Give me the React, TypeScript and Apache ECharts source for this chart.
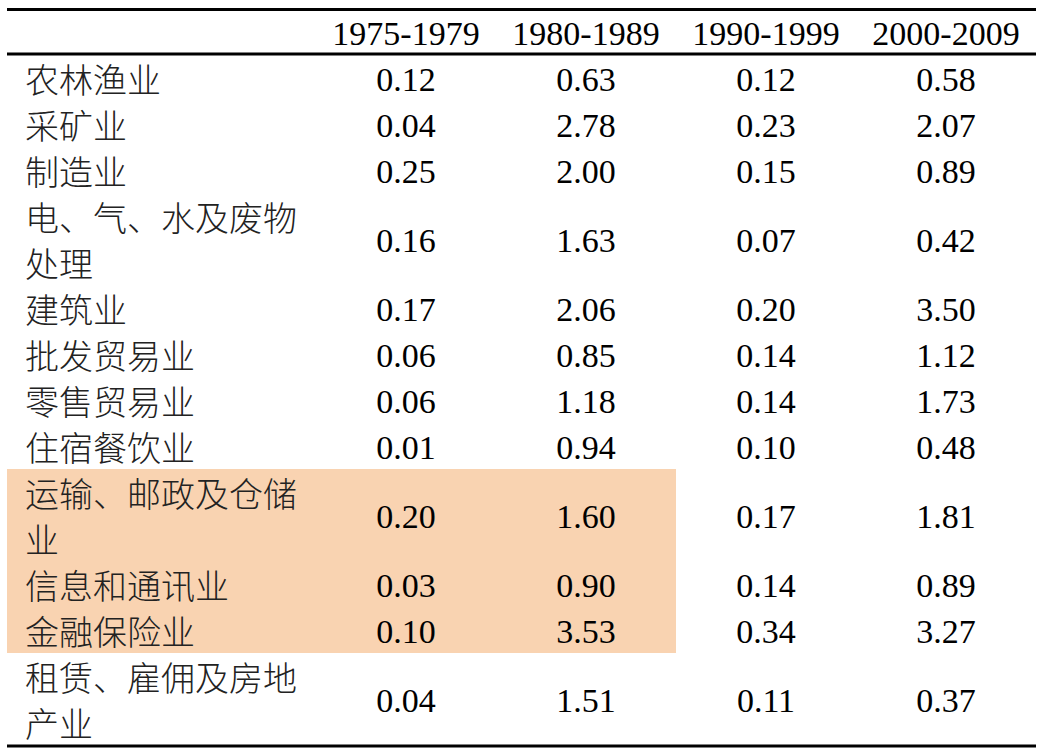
import React, { useEffect, useRef } from "react";
import * as echarts from "echarts";

const periods = ["1975-1979", "1980-1989", "1990-1999", "2000-2009"];
const industries = [
  ["农林渔业"],
  ["采矿业"],
  ["制造业"],
  ["电、气、水及废物", "处理"],
  ["建筑业"],
  ["批发贸易业"],
  ["零售贸易业"],
  ["住宿餐饮业"],
  ["运输、邮政及仓储", "业"],
  ["信息和通讯业"],
  ["金融保险业"],
  ["租赁、雇佣及房地", "产业"],
];
const v1975 = ["0.12", "0.04", "0.25", "0.16", "0.17", "0.06", "0.06", "0.01", "0.20", "0.03", "0.10", "0.04"];
const v1980 = ["0.63", "2.78", "2.00", "1.63", "2.06", "0.85", "1.18", "0.94", "1.60", "0.90", "3.53", "1.51"];
const v1990 = ["0.12", "0.23", "0.15", "0.07", "0.20", "0.14", "0.14", "0.10", "0.17", "0.14", "0.34", "0.11"];
const v2000 = ["0.58", "2.07", "0.89", "0.42", "3.50", "1.12", "1.73", "0.48", "1.81", "0.89", "3.27", "0.37"];
const highlightRows = [8, 9, 10];
const highlightCols = 2;

export default function App() {
  const ref = useRef<HTMLDivElement>(null);
  useEffect(() => {
    if (!ref.current) return;
    const chart = echarts.init(ref.current, null, { renderer: "svg" });
    const values = [v1975, v1980, v1990, v2000];
    const left = 7;
    const right = 1036;
    const firstCol = 316;
    const colW = 180;
    const labelX = 25;
    const lineH = 46;
    const bodyTop = 56;
    const headerMid = 33;
    const numFont = "'Liberation Serif', Tinos, 'DejaVu Serif', serif";
    const cjkFont = "'Noto Sans CJK SC', sans-serif";
    const fs = 34;
    const els: any[] = [];

    let y = bodyTop;
    const rowTops: number[] = [];
    industries.forEach((lines) => {
      rowTops.push(y);
      y += lines.length * lineH;
    });
    const bodyBottom = y;
    const hTop = rowTops[highlightRows[0]];
    const lastH = highlightRows[highlightRows.length - 1];
    const hBot = rowTops[lastH] + industries[lastH].length * lineH;
    els.push({
      type: "rect",
      shape: { x: left, y: hTop - 1, width: firstCol + colW * highlightCols - left, height: hBot - hTop },
      style: { fill: "#F9D3B1" },
      silent: true,
    });

    [9.5, 54, bodyBottom].forEach((ly) => {
      els.push({
        type: "rect",
        shape: { x: left, y: ly - 1.5, width: right - left, height: 3 },
        style: { fill: "#000" },
      });
    });

    periods.forEach((p, i) => {
      els.push({
        type: "text",
        x: firstCol + colW * (i + 0.5),
        y: headerMid,
        style: { text: p, fontFamily: numFont, fontSize: fs, fill: "#000", align: "center", verticalAlign: "middle" },
      });
    });

    industries.forEach((lines, r) => {
      const top = rowTops[r];
      const mid = top + (lines.length * lineH) / 2;
      lines.forEach((t, k) => {
        els.push({
          type: "text",
          x: labelX,
          y: top + lineH * (k + 0.5) - 1,
          style: { text: t, fontFamily: cjkFont, fontSize: fs, fontWeight: 300, fill: "#222", align: "left", verticalAlign: "middle" },
        });
      });
      values.forEach((col, c) => {
        els.push({
          type: "text",
          x: firstCol + colW * (c + 0.5),
          y: mid,
          style: { text: col[r], fontFamily: numFont, fontSize: fs, fill: "#000", align: "center", verticalAlign: "middle" },
        });
      });
    });

    chart.setOption({
      animation: false,
      backgroundColor: "#fff",
      graphic: { elements: els },
    });
    return () => chart.dispose();
  }, []);
  return (
    <div
      ref={ref}
      style={{ position: "fixed", left: 0, top: 0, width: 1043, height: 755, background: "#fff" }}
    />
  );
}
